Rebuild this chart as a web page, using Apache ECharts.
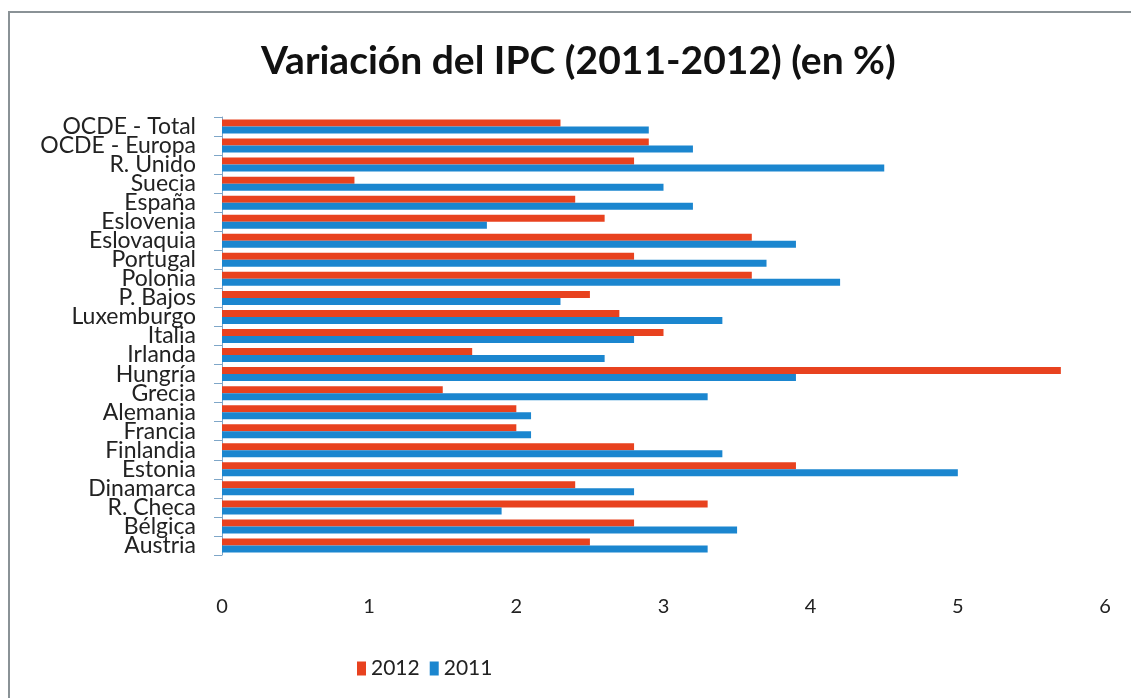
<!DOCTYPE html>
<html>
<head>
<meta charset="utf-8">
<title>Variación del IPC</title>
<script src="https://cdn.jsdelivr.net/npm/echarts@6/dist/echarts.min.js"></script>
<style>
  html, body { margin: 0; padding: 0; background: #fff; }
  #chart { width: 1131px; height: 698px; }
</style>
</head>
<body>
<div id="chart"></div>
<script>
// categorías de abajo (Austria) hacia arriba (OCDE - Total)
var paises = [
  "Austria", "Bélgica", "R. Checa", "Dinamarca", "Estonia", "Finlandia",
  "Francia", "Alemania", "Grecia", "Hungría", "Irlanda", "Italia",
  "Luxemburgo", "P. Bajos", "Polonia", "Portugal", "Eslovaquia",
  "Eslovenia", "España", "Suecia", "R. Unido", "OCDE - Europa", "OCDE - Total"
];
var ipc2012 = [2.5, 2.8, 3.3, 2.4, 3.9, 2.8, 2.0, 2.0, 1.5, 5.7, 1.7, 3.0,
               2.7, 2.5, 3.6, 2.8, 3.6, 2.6, 2.4, 0.9, 2.8, 2.9, 2.3];
var ipc2011 = [3.3, 3.5, 1.9, 2.8, 5.0, 3.4, 2.1, 2.1, 3.3, 3.9, 2.6, 2.8,
               3.4, 2.3, 4.2, 3.7, 3.9, 1.8, 3.2, 3.0, 4.5, 3.2, 2.9];
var ticksX = [0, 1, 2, 3, 4, 5, 6];

var myChart = echarts.init(document.getElementById("chart"));
var font = "Lato, 'Open Sans', sans-serif";

var option = {
  backgroundColor: "#fff",
  animation: false,
  title: {
    text: "Variación del IPC (2011-2012) (en %)",
    left: 256,
    top: 37,
    textStyle: { fontFamily: font, fontSize: 39, fontWeight: "bold", color: "#111" }
  },
  graphic: [
    {
      type: "rect",
      shape: { x: 9, y: 12, width: 1140, height: 700 },
      style: { fill: "none", stroke: "#8a9296", lineWidth: 2 }
    }
  ],
  legend: {
    data: ["2012", "2011"],
    left: 352,
    top: 653,
    itemWidth: 9,
    itemHeight: 14,
    itemGap: 10,
    icon: "rect",
    textStyle: { fontFamily: font, fontSize: 21, color: "#222" }
  },
  grid: { left: 222, right: 26, top: 117, bottom: 143 },
  xAxis: {
    type: "value",
    min: ticksX[0],
    max: ticksX[ticksX.length - 1],
    interval: 1,
    axisLine: { show: false },
    axisTick: { show: false },
    splitLine: { show: false },
    axisLabel: { margin: 42, fontFamily: font, fontSize: 20, color: "#222" }
  },
  yAxis: {
    type: "category",
    data: paises,
    axisLine: { show: true, lineStyle: { color: "#7ea6c8", width: 1 } },
    axisTick: { show: true, length: 8, lineStyle: { color: "#7ea6c8" } },
    axisLabel: {
      interval: 0,
      margin: 26,
      fontFamily: font,
      fontSize: 23,
      color: "#222",
      lineHeight: 19
    }
  },
  series: [
    {
      name: "2012",
      type: "bar",
      data: ipc2012,
      barWidth: 7,
      barGap: "0%",
      itemStyle: { color: "#e8421f" }
    },
    {
      name: "2011",
      type: "bar",
      data: ipc2011,
      barWidth: 7,
      barGap: "0%",
      itemStyle: { color: "#1b86cf" }
    }
  ]
};

myChart.setOption(option);
</script>
</body>
</html>
